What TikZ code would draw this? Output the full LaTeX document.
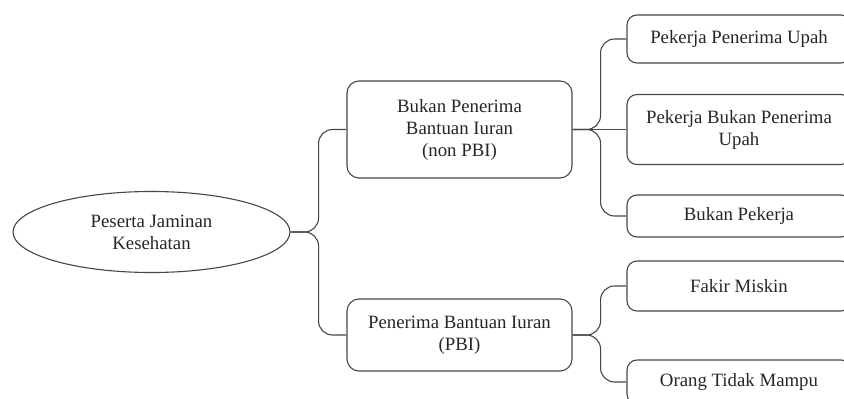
\documentclass[tikz,border=0pt]{standalone}
\usepackage{fontspec}
\setmainfont{Liberation Serif}
\usetikzlibrary{shapes.geometric}
\tikzset{
  base/.style={draw=black!72, line width=1.1pt, fill=white, align=center, inner sep=0pt,
    font=\fontsize{18.8}{22}\selectfont, text=black!85},
  oval/.style={base, ellipse, minimum width=277pt, minimum height=81pt},
  midbox/.style={base, rounded corners=12pt, minimum width=225pt},
  leafbox/.style={base, rounded corners=10pt, minimum width=224pt},
  conn/.style={draw=black!72, line width=1.1pt, rounded corners=14pt}
}
\begin{document}
\begin{tikzpicture}[x=1pt,y=-1pt]
\useasboundingbox (0,0) rectangle (844,399);
\fill[white] (0,0) rectangle (844,399);
\clip (0,0) rectangle (844,399);

\node[oval] (root) at (151.5,232) {Peserta Jaminan\\Kesehatan};

\node[midbox, minimum height=97pt] (nonpbi) at (459.5,129.5) {Bukan Penerima\\Bantuan Iuran\\(non PBI)};
\node[midbox, minimum height=72pt] (pbi) at (459.5,335) {Penerima Bantuan Iuran\\(PBI)};

\node[leafbox, minimum height=48pt] (ppu) at (739,39) {Pekerja Penerima Upah};
\node[leafbox, minimum height=70pt] (pbpu) at (739,129.5) {Pekerja Bukan Penerima\\Upah};
\node[leafbox, minimum height=42pt] (bp) at (739,216) {Bukan Pekerja};
\node[leafbox, minimum height=50pt] (fm) at (739,286) {Fakir Miskin};
\node[leafbox, minimum height=44pt] (otm) at (739,382) {Orang Tidak Mampu};

\draw[conn] (root.east) -- ++(28,0) |- (nonpbi.west);
\draw[conn] (root.east) -- ++(28,0) |- (pbi.west);

\draw[conn] (nonpbi.east) -- ++(28,0) |- (ppu.west);
\draw[conn] (nonpbi.east) -- (pbpu.west);
\draw[conn] (nonpbi.east) -- ++(28,0) |- (bp.west);

\draw[conn] (pbi.east) -- ++(28,0) |- (fm.west);
\draw[conn] (pbi.east) -- ++(28,0) |- (otm.west);
\end{tikzpicture}
\end{document}
